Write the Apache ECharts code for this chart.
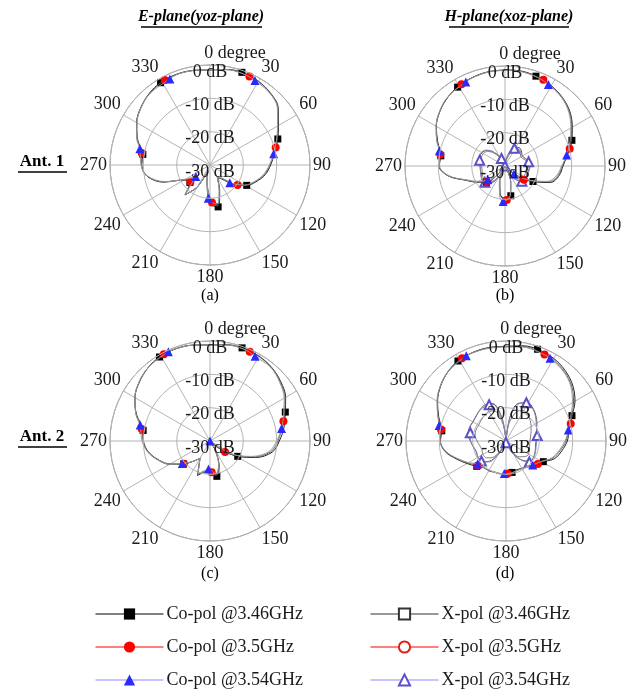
<!DOCTYPE html>
<html><head><meta charset="utf-8">
<script src="https://cdn.jsdelivr.net/npm/echarts@6/dist/echarts.min.js"></script>
<style>html,body{margin:0;padding:0;background:#fff}#c{width:641px;height:692px}</style>
</head><body><div id="c"></div>
<script>
// Angle samples (deg) per frequency; marker angles replace nearby grid points
const ANG_SQ = [0,10,19,30,40,50,60,69,80,90,100,110,119,130,140,150,160,169,180,190,200,210,220,229,240,250,260,270,279,290,300,310,320,329,340,350];
const ANG_CI = [0,10,24,30,40,50,60,70,75,90,100,110,120,126,140,150,160,170,177,190,200,210,220,229,240,250,260,270,280,290,300,310,320,332,340,350];
const ANG_TR = [0,10,20,28,40,50,60,70,80,90,100,110,120,132,140,150,160,170,183,190,200,210,220,231,240,250,260,270,283,290,300,310,320,335,340,350];
const MK_SQ = [19,69,119,169,229,279,329];
const MK_CI = [24,75,126,177,229,280,332];
const MK_TR = [28,80,132,183,231,283,335];
const MK_NONE = [];

const ANGLE_TICKS = [0,30,60,90,120,150,180,210,240,270,300,330];
const RADIUS_TICKS = [-30,-20,-10,0];

const SERIES_NAMES = ['Co-pol @3.46GHz','Co-pol @3.5GHz','Co-pol @3.54GHz','X-pol @3.46GHz','X-pol @3.5GHz','X-pol @3.54GHz'];
const PANEL_LABELS = ['(a)','(b)','(c)','(d)'];
const PLANE_TITLES = ['E-plane(yoz-plane)','H-plane(xoz-plane)'];
const ANT_LABELS = ['Ant. 1','Ant. 2'];

// (a) Ant.1 E-plane, co-pol (dB)
const A1E_CO_346 = [-1.5,-0.9,-0.6,-1.0,-1.8,-3.3,-6.3,-8.2,-10.4,-11.8,-13.2,-15.3,-17.4,-21,-24.5,-25.5,-21.5,-17.2,-18.5,-25,-28,-22.5,-18.3,-22,-21,-15,-10.8,-9.5,-9.6,-6.8,-4.6,-3.0,-1.8,-1.2,-1.0,-1.2];
const A1E_CO_35  = [-1.4,-0.9,-0.9,-1.0,-1.9,-3.5,-6.5,-8.6,-9.6,-12.0,-13.5,-15.5,-17.8,-19.8,-24.8,-25.5,-21.8,-17.5,-18.7,-25,-28,-22.3,-18.4,-22.2,-21,-15.2,-10.8,-9.5,-9.2,-6.7,-4.6,-3.0,-1.9,-1.1,-1.0,-1.2];
const A1E_CO_354 = [-1.4,-1.0,-0.9,-1.3,-2.0,-3.6,-6.6,-8.8,-10.6,-12.2,-13.7,-15.7,-18,-22,-25,-25.5,-22,-18,-20,-25.5,-28,-22.5,-18.5,-24.5,-21.5,-15.5,-11,-9.3,-8.4,-6.6,-4.7,-3.1,-2.0,-1.5,-1.1,-1.2];

// (b) Ant.1 H-plane
const A1H_CO_346 = [-1.2,-1.1,-1.5,-2.2,-3.2,-4.6,-6.7,-8.5,-11,-12.6,-13.5,-15.5,-20.4,-26,-29,-30,-25,-20.9,-20.3,-21.5,-25.5,-30,-27,-22.6,-20.3,-17.5,-12.8,-10.2,-10.5,-8.5,-6.2,-4.5,-3.2,-2.4,-1.7,-1.3];
const A1H_CO_35  = [-1.2,-1.2,-1.7,-2.2,-3.3,-4.8,-6.9,-8.9,-9.9,-12.8,-13.8,-16,-21,-23,-29,-30,-25,-21,-19.8,-21.2,-25.2,-30,-26.8,-22.8,-20.5,-17.6,-12.8,-10.3,-10.3,-8.3,-6.2,-4.5,-3.2,-2.2,-1.7,-1.3];
const A1H_CO_354 = [-1.3,-1.3,-1.7,-2.3,-3.4,-5,-7.2,-9.3,-11.2,-13,-14.2,-16.5,-21.5,-26.4,-29,-30,-25,-21,-19.3,-20.8,-25,-30,-26.5,-23.4,-20.8,-17.8,-13,-10.4,-9.8,-8.2,-6.1,-4.4,-3.1,-2.2,-1.8,-1.4];
const A1H_X_346  = [-30,-28,-25.5,-23.5,-23,-23.5,-24,-23.5,-22.8,-22.5,-22.8,-23,-23,-23.2,-24.5,-27,-29.5,-30,-30,-30,-29,-26,-23.5,-22.3,-22,-22.3,-22.5,-22.5,-22.3,-22,-22,-22.8,-24.5,-26.8,-29,-30];
const A1H_X_35   = [-30,-28.5,-25,-24,-23.5,-24,-24.5,-24,-23.5,-23,-23.2,-23.5,-23.5,-23.6,-25,-27.5,-29.5,-30,-30,-30,-29,-26.5,-24,-22.8,-22.5,-22.8,-23,-23,-22.8,-22.5,-22.5,-23.2,-25,-27.5,-29,-30];
const A1H_X_354  = [-30,-27.5,-25,-24,-23.5,-23.8,-24,-23.5,-22.8,-22.5,-22.6,-22.8,-23,-23.2,-24.5,-27,-29.5,-30,-30,-30,-28.8,-25.8,-23.3,-22.2,-22,-22.4,-22.6,-22.6,-22.2,-22,-21.8,-22.6,-24.3,-27.5,-28.8,-30];

// (c) Ant.2 E-plane
const A2E_CO_346 = [-1.2,-0.7,-0.45,-0.6,-1.2,-2.3,-3.8,-5.8,-7.5,-9.2,-11,-15.5,-20.5,-27,-30,-27,-22,-19.2,-21,-20.5,-19,-24,-22,-19.5,-16,-13.5,-11.2,-10,-9.7,-6.5,-4,-2.4,-1.2,-0.6,-0.5,-0.8];
const A2E_CO_35  = [-1.2,-0.7,-0.7,-0.7,-1.3,-2.5,-4,-6.2,-7.2,-9.6,-11.5,-16,-21.5,-24.4,-30,-27,-22.3,-19.5,-20.6,-20.7,-19.3,-24,-22,-19.6,-16.3,-13.5,-11.2,-10,-9.2,-6.4,-4,-2.3,-1.2,-0.5,-0.5,-0.8];
const A2E_CO_354 = [-1.2,-0.8,-0.6,-1.2,-1.4,-2.7,-4.3,-6.5,-8.2,-10,-12,-16.5,-22,-30,-30,-27,-22.5,-20,-21.6,-21,-19.5,-24,-22,-19.3,-16,-13.3,-11,-9.6,-8.5,-6.3,-4,-2.3,-1.2,-0.45,-0.5,-0.8];

// (d) Ant.2 H-plane
const A2H_CO_346 = [-1.6,-1.0,-0.9,-1.4,-2.4,-3.9,-6.1,-8.8,-10.8,-11.6,-13,-14.5,-17.2,-19,-20,-20.5,-20.8,-20.4,-20.3,-20,-20,-19.7,-19.6,-18.4,-16.5,-14.2,-11.5,-10.3,-10.5,-8.5,-6.3,-4.4,-2.9,-2,-1.6,-1.5];
const A2H_CO_35  = [-1.7,-1.2,-1.6,-1.8,-2.8,-4.3,-6.6,-9.0,-9.9,-12,-13.5,-15,-17.5,-18.2,-20,-20.5,-20.6,-20.3,-20.2,-20.1,-20.1,-19.8,-19.5,-18.7,-16.8,-14.4,-11.6,-10.3,-10.2,-8.3,-6.2,-4.3,-2.9,-1.9,-1.7,-1.6];
const A2H_CO_354 = [-1.8,-1.4,-1.6,-1.9,-3,-4.6,-7,-9.4,-11,-12.3,-13.8,-15.3,-17.8,-19.2,-20,-20.4,-20.5,-20.3,-20.2,-20.1,-20.1,-19.9,-19.6,-19,-17,-14.6,-11.8,-10.2,-9.4,-8.2,-6.1,-4.3,-2.9,-1.8,-1.7,-1.7];
const A2H_X_346  = [-30,-22,-18,-16.8,-17.3,-18.3,-19.3,-20.2,-20.8,-21,-21,-20.7,-20.4,-20.6,-22.5,-25.5,-28.5,-30,-30,-30,-28.5,-25.5,-22,-20.5,-20.2,-20.5,-20,-19.3,-18.6,-18.3,-18.5,-18.3,-17.8,-17.5,-18,-23];
const A2H_X_35   = [-30,-24.5,-20,-19.5,-19.8,-20.5,-21.3,-22,-22.3,-22.8,-22.8,-22.5,-22.2,-22.3,-23.8,-26.5,-29,-30,-30,-30,-29,-26.5,-23.5,-22.3,-22,-22.3,-22,-21.3,-20.6,-20.4,-20.5,-20.3,-20,-19.8,-20.5,-25];
const A2H_X_354  = [-30,-22.5,-18,-17,-17.5,-18.5,-19.5,-20.2,-20.5,-20.8,-20.8,-20.6,-20.4,-20.6,-22.3,-25.3,-28.3,-29.8,-29.5,-30,-28.3,-25.3,-21.8,-20.5,-20.3,-20.6,-20.1,-19.4,-19,-18.5,-18.6,-18.4,-17.9,-18,-18.3,-23.5];

const FONT = '"Liberation Serif", "Times New Roman", serif';

// series styling keyed by series name
const STYLE = {
  'Co-pol @3.46GHz': {ang: ANG_SQ, mk: MK_SQ, symbol: 'rect', size: 7, line: '#222', mcol: '#000', legendLine: '#000', z: 6},
  'Co-pol @3.5GHz':  {ang: ANG_CI, mk: MK_CI, symbol: 'circle', size: 8, line: '#666', mcol: '#ff0000', legendLine: '#ff0000', z: 7},
  'Co-pol @3.54GHz': {ang: ANG_TR, mk: MK_TR, symbol: 'triangle', size: 9, line: '#999', mcol: '#2a2aff', legendLine: '#8c8cff', z: 8},
  'X-pol @3.46GHz':  {ang: ANG_SQ, mk: MK_NONE, symbol: 'emptyRect', size: 7, line: '#555', mcol: '#333', legendLine: '#333', z: 3},
  'X-pol @3.5GHz':   {ang: ANG_CI, mk: MK_NONE, symbol: 'emptyCircle', size: 8, line: '#8a7a86', mcol: '#e02020', legendLine: '#ff0000', z: 4},
  'X-pol @3.54GHz':  {ang: ANG_TR, mk: MK_TR, symbol: 'emptyTriangle', size: 9, line: '#8a86b8', mcol: '#5a50c8', legendLine: '#8c8cff', z: 5}
};

const PANELS = [
  {center: [210, 165], series: [A1E_CO_346, A1E_CO_35, A1E_CO_354]},
  {center: [505, 166], series: [A1H_CO_346, A1H_CO_35, A1H_CO_354, A1H_X_346, A1H_X_35, A1H_X_354]},
  {center: [210, 441], series: [A2E_CO_346, A2E_CO_35, A2E_CO_354]},
  {center: [506, 441], series: [A2H_CO_346, A2H_CO_35, A2H_CO_354, A2H_X_346, A2H_X_35, A2H_X_354]}
];

const polar = [], angleAxis = [], radiusAxis = [], series = [];
PANELS.forEach((p, pi) => {
  polar.push({center: p.center, radius: 100});
  angleAxis.push({
    polarIndex: pi, type: 'value', min: 0, max: 360, interval: 30,
    startAngle: 90, clockwise: true,
    axisLine: {lineStyle: {color: '#999', width: 1}},
    axisTick: {show: false},
    splitLine: {lineStyle: {color: '#b4b4b4', width: 1}},
    axisLabel: {
      margin: 3, fontFamily: FONT, fontSize: 18, color: '#1a1a1a',
      formatter: v => (ANGLE_TICKS.indexOf(v) < 0 ? '' : (v === 0 ? '{p|}0 degree' : String(v))),
      rich: {p: {width: 50, fontSize: 18, fontFamily: FONT}}
    }
  });
  radiusAxis.push({
    polarIndex: pi, min: RADIUS_TICKS[0], max: RADIUS_TICKS[RADIUS_TICKS.length - 1], interval: 10,
    axisLine: {show: false}, axisTick: {show: false},
    splitLine: {lineStyle: {color: '#b4b4b4', width: 1}},
    axisLabel: {
      margin: 0, fontFamily: FONT, fontSize: 18, lineHeight: 14, color: '#1a1a1a',
      align: 'center', verticalAlign: 'top',
      formatter: v => v + ' dB'
    },
    z: 10
  });
  p.series.forEach((vals, si) => {
    const name = SERIES_NAMES[si];
    const st = STYLE[name];
    const data = st.ang.map((a, i) => {
      const item = {value: [vals[i], a]};
      if (st.mk.indexOf(a) < 0) item.symbol = 'none';
      return item;
    });
    data.push({value: [vals[0], 360], symbol: 'none'});
    series.push({
      type: 'line', name: name, coordinateSystem: 'polar', polarIndex: pi,
      data: data, symbol: st.symbol, symbolSize: st.size, showSymbol: true,
      smooth: 0.35, animation: false, z: st.z,
      lineStyle: {color: st.line, width: 1},
      itemStyle: {color: st.mcol, borderColor: st.mcol, borderWidth: st.symbol.indexOf('empty') === 0 ? 1 : 0}
    });
  });
});

// one legend per entry: two columns, three rows
const LEG_LEFT = [95, 95, 95, 370, 370, 370];
const LEG_TOP = [605, 638, 671, 605, 638, 671];
const legend = SERIES_NAMES.map((n, i) => ({
  left: LEG_LEFT[i], top: LEG_TOP[i], padding: 0,
  orient: 'horizontal', itemWidth: 68, itemHeight: 14, itemGap: 0,
  textStyle: {fontFamily: FONT, fontSize: 18, color: '#1a1a1a', padding: [0, 0, 0, -2]},
  selectedMode: false,
  data: [{name: n, lineStyle: {color: STYLE[n].legendLine, width: 1}}]
}));

const graphic = [];
const txt = (x, y, text, font) => ({type: 'text', x: x, y: y, style: {text: text, font: font, fill: '#000', align: 'center', verticalAlign: 'middle'}});
const uline = (x1, x2, y) => ({type: 'line', shape: {x1: x1, y1: y, x2: x2, y2: y}, style: {stroke: '#000', lineWidth: 1.3}});
graphic.push(txt(201, 17, PLANE_TITLES[0], 'italic bold 16px ' + FONT));
graphic.push(uline(141, 262, 27));
graphic.push(txt(509, 17, PLANE_TITLES[1], 'italic bold 16px ' + FONT));
graphic.push(uline(449, 569, 27));
graphic.push(txt(42, 162, ANT_LABELS[0], 'bold 17px ' + FONT));
graphic.push(uline(18, 67, 172));
graphic.push(txt(42, 437, ANT_LABELS[1], 'bold 17px ' + FONT));
graphic.push(uline(18, 67, 447));
graphic.push(txt(210, 296, PANEL_LABELS[0], '16px ' + FONT));
graphic.push(txt(505, 296, PANEL_LABELS[1], '16px ' + FONT));
graphic.push(txt(210, 574, PANEL_LABELS[2], '16px ' + FONT));
graphic.push(txt(505, 574, PANEL_LABELS[3], '16px ' + FONT));

const chart = echarts.init(document.getElementById('c'), null, {renderer: 'canvas'});
chart.setOption({
  backgroundColor: '#fff',
  animation: false,
  polar: polar, angleAxis: angleAxis, radiusAxis: radiusAxis, series: series,
  legend: legend,
  graphic: graphic
});
</script></body></html>
